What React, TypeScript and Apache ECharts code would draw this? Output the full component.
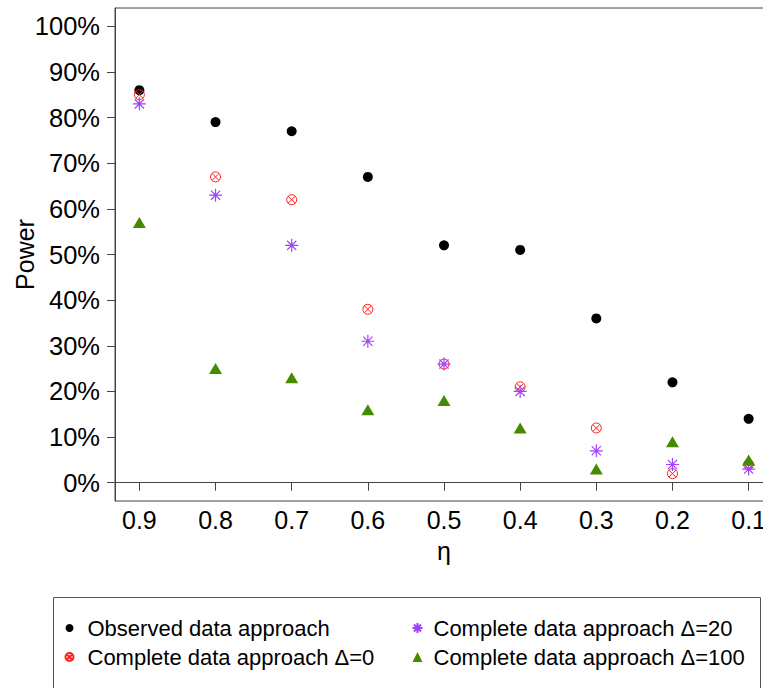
import React, { useEffect, useRef } from "react";
import * as echarts from "echarts";

const etaValues = [0.9, 0.8, 0.7, 0.6, 0.5, 0.4, 0.3, 0.2, 0.1];
const observed = [86, 79, 77, 67, 52, 51, 36, 22, 14];
const delta0 = [85, 67, 62, 38, 26, 21, 12, 2, 4];
const delta20 = [83, 63, 52, 31, 26, 20, 7, 4, 3];
const delta100 = [57, 25, 23, 16, 18, 12, 3, 9, 5];
const xTicks = [0.1, 0.2, 0.3, 0.4, 0.5, 0.6, 0.7, 0.8, 0.9];
const yTicks = [0, 0.1, 0.2, 0.3, 0.4, 0.5, 0.6, 0.7, 0.8, 0.9, 1.0];
const names = [
  "Observed data approach",
  "Complete data approach Δ=0",
  "Complete data approach Δ=20",
  "Complete data approach Δ=100",
];

const FONT = "'Liberation Sans', Arial, Helvetica, sans-serif";
const AXIS = "#444";

const circleX =
  "path://M0,-10 A10,10 0 1,1 0,10 A10,10 0 1,1 0,-10 Z M-7.07,-7.07 L7.07,7.07 M7.07,-7.07 L-7.07,7.07";
const asterisk =
  "path://M0,-10 L0,10 M-10,0 L10,0 M-7.07,-7.07 L7.07,7.07 M7.07,-7.07 L-7.07,7.07";

function pts(vals: number[]) {
  return etaValues.map((e, i) => [e, vals[i] / 100]);
}

export default function App() {
  const ref = useRef<HTMLDivElement>(null);
  useEffect(() => {
    if (!ref.current) return;
    const chart = echarts.init(ref.current, null, { renderer: "svg" });
    chart.setOption({
      animation: false,
      textStyle: { fontFamily: FONT },
      grid: {
        left: 115,
        top: 8,
        width: 658,
        height: 493,
        show: true,
        borderColor: AXIS,
        borderWidth: 1,
        backgroundColor: "transparent",
        containLabel: false,
        outerBoundsMode: "none",
      },
      xAxis: {
        type: "value",
        inverse: true,
        min: 0.068,
        max: 0.932,
        name: "η",
        nameLocation: "middle",
        nameGap: 37,
        nameMoveOverlap: false,
        nameTextStyle: { fontSize: 25, color: "#000", fontFamily: FONT },
        axisLine: { show: true, lineStyle: { color: AXIS } },
        axisTick: {
          show: true,
          length: 8,
          inside: false,
          customValues: xTicks,
          lineStyle: { color: AXIS },
        },
        axisLabel: {
          customValues: xTicks,
          fontSize: 25,
          color: "#000",
          margin: 6,
          fontFamily: FONT,
          formatter: (v: number) => v.toFixed(1),
        },
        splitLine: { show: false },
      },
      yAxis: {
        type: "value",
        min: -0.04,
        max: 1.04,
        name: "Power",
        nameLocation: "middle",
        nameRotate: 90,
        nameGap: 78,
        nameMoveOverlap: false,
        nameTextStyle: { fontSize: 25, color: "#000", fontFamily: FONT },
        axisLine: { show: true, lineStyle: { color: AXIS } },
        axisTick: {
          show: true,
          length: 8,
          customValues: yTicks,
          lineStyle: { color: AXIS },
        },
        axisLabel: {
          customValues: yTicks,
          fontSize: 25.5,
          color: "#000",
          margin: 15,
          fontFamily: FONT,
          formatter: (v: number) => Math.round(v * 100) + "%",
        },
        splitLine: { show: false },
      },
      legend: [
        {
          orient: "vertical",
          left: 58,
          top: 610,
          itemWidth: 8,
          itemHeight: 8,
          itemGap: 3,
          data: [names[0], names[1]],
          textStyle: {
            fontSize: 22,
            color: "#000",
            fontFamily: FONT,
            lineHeight: 26,
            padding: [0, 0, 0, 9],
          },
        },
        {
          orient: "vertical",
          left: 405,
          top: 610,
          itemWidth: 10,
          itemHeight: 10,
          itemGap: 3,
          data: [names[2], names[3]],
          textStyle: {
            fontSize: 22,
            color: "#000",
            fontFamily: FONT,
            lineHeight: 26,
            padding: [0, 0, 0, 6],
          },
        },
      ],
      graphic: [
        {
          type: "rect",
          shape: { x: 53.5, y: 597.5, width: 707, height: 120 },
          style: { fill: "none", stroke: "#555", lineWidth: 1 },
          silent: true,
        },
      ],
      series: [
        {
          name: names[0],
          type: "scatter",
          data: pts(observed),
          symbol: "circle",
          symbolSize: 10,
          itemStyle: { color: "#000", opacity: 1 },
        },
        {
          name: names[1],
          type: "scatter",
          data: pts(delta0),
          symbol: circleX,
          symbolSize: 10,
          itemStyle: { color: "none", borderColor: "#ff2020", borderWidth: 1, opacity: 1 },
        },
        {
          name: names[2],
          type: "scatter",
          data: pts(delta20),
          symbol: asterisk,
          symbolSize: 13,
          itemStyle: { color: "none", borderColor: "#9f45f5", borderWidth: 1.2, opacity: 1 },
        },
        {
          name: names[3],
          type: "scatter",
          data: pts(delta100),
          symbol: "triangle",
          symbolSize: [13, 11],
          itemStyle: { color: "#458b00", opacity: 1 },
        },
      ],
    });
    return () => chart.dispose();
  }, []);
  return (
    <div
      ref={ref}
      style={{ position: "fixed", left: 0, top: 0, width: 763, height: 688, background: "#fff" }}
    />
  );
}
